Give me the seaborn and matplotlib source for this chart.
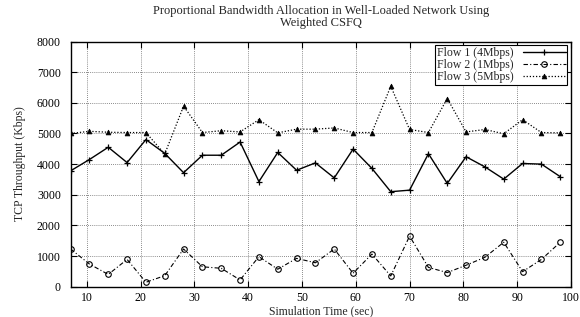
import numpy as np
import pandas as pd
import seaborn as sns
import matplotlib.pyplot as plt

# simulation time (sec)
time = [7, 10.5, 14, 17.5, 21, 24.5, 28, 31.5, 35, 38.5, 42, 45.5, 49, 52.5,
        56, 59.5, 63, 66.5, 70, 73.5, 77, 80.5, 84, 87.5, 91, 94.5, 98]

# TCP throughput (Kbps)
flow1 = [3780, 4150, 4550, 4050, 4800, 4350, 3720, 4290, 4290, 4720, 3430, 4380, 3800, 4040,
         3550, 4490, 3860, 3100, 3150, 4340, 3370, 4240, 3910, 3510, 4020, 4000, 3590]
flow2 = [1230, 740, 400, 890, 145, 360, 1230, 650, 600, 220, 980, 570, 925, 780,
         1230, 440, 1065, 350, 1650, 630, 460, 700, 960, 1450, 490, 890, 1450]
flow3 = [5000, 5070, 5040, 5030, 5030, 4330, 5890, 5030, 5090, 5050, 5450, 5020, 5140, 5140,
         5180, 5030, 5030, 6540, 5130, 5030, 6140, 5050, 5130, 4990, 5450, 5030, 5020]

labels = ["Flow 1 (4Mbps)", "Flow 2 (1Mbps)", "Flow 3 (5Mbps)"]

sns.set_theme(style="ticks")
plt.rcParams['font.family'] = ['Liberation Serif', 'DejaVu Serif']

fig, ax = plt.subplots(figsize=(5.8, 3.17), dpi=100)
fig.subplots_adjust(left=0.1217, right=0.9845, top=0.869, bottom=0.0956)

sns.lineplot(x=time, y=flow1, ax=ax, color="black", lw=1.0, marker="+", ms=5,
             mec="black", mew=0.9, label=labels[0])
sns.lineplot(x=time, y=flow2, ax=ax, color="black", lw=0.8, linestyle=(0, (4, 2, 1, 2)),
             marker="o", ms=4, mfc="none", mec="black", mew=0.8, label=labels[1])
sns.lineplot(x=time, y=flow3, ax=ax, color="black", lw=0.9, linestyle=(0, (1, 1.5)),
             marker="^", ms=3.5, mfc="black", mec="black", mew=0.5, label=labels[2])

ax.set_xlim(7, 100)
ax.set_ylim(0, 8000)
ax.set_xticks(range(10, 101, 10))
ax.set_yticks(range(0, 8001, 1000))
ax.grid(True, color="#666666", linestyle=(0, (1, 1.5)), lw=0.6)
ax.tick_params(direction="in", length=4, width=0.8, top=True, right=True,
               labelsize=8.5, colors="black")
ax.tick_params(axis="x", pad=4)
ax.tick_params(axis="y", pad=7)
for s in ax.spines.values():
    s.set_color("black")
    s.set_linewidth(1.0)

ax.set_xlabel("Simulation Time (sec)", fontsize=8.5, labelpad=1)
ax.set_ylabel("TCP Throughput (Kbps)", fontsize=8.5, labelpad=8)
ax.set_title("Proportional Bandwidth Allocation in Well-Loaded Network Using\nWeighted CSFQ",
             fontsize=9, linespacing=1.0, pad=11)

leg = ax.legend(loc="upper right", markerfirst=False, fontsize=8.5, frameon=True,
                fancybox=False, edgecolor="black", borderaxespad=0.3,
                handlelength=3.6, borderpad=0.15, labelspacing=0.0,
                handletextpad=0.8)
leg.get_frame().set_linewidth(0.8)
leg.get_frame().set_alpha(1)

fig.savefig("out.png", dpi=100)
